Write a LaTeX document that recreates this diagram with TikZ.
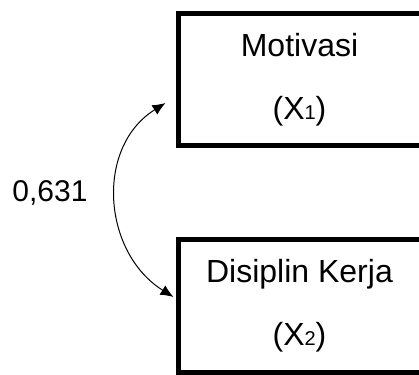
\documentclass[tikz,border=0pt]{standalone}
\usepackage{fontspec}
\setmainfont{Liberation Sans}
\usetikzlibrary{arrows.meta,positioning}
\newcommand{\varidx}[1]{{\fontsize{20}{20}\selectfont #1}}

\begin{document}
\begin{tikzpicture}[x=1pt,y=1pt,
    varbox/.style={draw,line width=5pt,minimum width=243pt,minimum height=132pt,
        inner sep=0pt,align=center,font=\fontsize{32}{63}\selectfont},
    corr/.style={{Latex[length=13pt,width=11pt]}-{Latex[length=13pt,width=11pt]},line width=1pt}]
    % page size of the reference, right side of the boxes is cut off
    \clip (0,0) rectangle (419,374);
    \node[varbox] (motivasi) at (299.5,294) {Motivasi\\(X\varidx{1})};
    \node[varbox] (disiplin) at (299.5,68) {Disiplin Kerja\\(X\varidx{2})};
    %correlation between the two variables
    \coordinate (corrtop) at ([shift={(-10,-23)}]motivasi.west);
    \coordinate (corrbot) at ([shift={(-2,9)}]disiplin.west);
    \draw[corr] (corrtop) to[out=212,in=148,looseness=1.1] (corrbot);
    \node[font=\fontsize{30}{36}\selectfont] (koef) at (50,181) {0,631};
\end{tikzpicture}
\end{document}
